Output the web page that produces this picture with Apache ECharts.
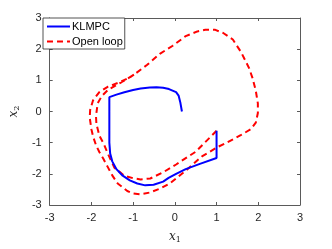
<!DOCTYPE html>
<html><head><meta charset="utf-8">
<script src="https://cdn.jsdelivr.net/npm/echarts@6/dist/echarts.min.js"></script>
<style>html,body{margin:0;padding:0;background:#fff}#c{width:332px;height:249px}</style>
</head><body><div id="c"></div>
<script>
const xTicks = [-3,-2,-1,0,1,2,3];
const yTicks = [-3,-2,-1,0,1,2,3];
const klmpcX = [1.0,1.0,0.6,0.26,0.03,-0.15,-0.28,-0.51,-0.71,-0.9,-1.08,-1.25,-1.4,-1.5,-1.55,-1.57,-1.57,-1.57,-1.4,-1.21,-1.0,-0.82,-0.6,-0.44,-0.28,-0.14,0.03,0.09,0.13,0.17];
const klmpcY = [-0.62,-1.49,-1.68,-1.85,-2.0,-2.13,-2.25,-2.35,-2.37,-2.31,-2.21,-2.06,-1.85,-1.6,-1.35,-1.0,-0.3,0.46,0.54,0.62,0.69,0.74,0.77,0.78,0.76,0.72,0.62,0.51,0.3,0.0];
const openX = [1.0,0.5,0.03,-0.28,-0.59,-0.82,-1.0,-1.21,-1.45,-1.61,-1.7,-1.81,-1.88,-1.89,-1.85,-1.75,-1.6,-1.29,-0.98,-0.67,-0.36,-0.05,0.26,0.54,0.73,0.97,1.16,1.39,1.59,1.78,1.86,1.94,1.99,1.99,1.94,1.82,1.59,1.2,1.04,0.65,0.26,-0.12,-0.35,-0.6,-0.82,-1.0,-1.14,-1.37,-1.5,-1.6,-1.72,-1.81,-1.89,-1.96,-2.0,-2.04,-2.03,-1.96,-1.81,-1.6,-1.34,-1.1,-0.98];
const openY = [-0.62,-1.29,-1.70,-1.95,-2.15,-2.18,-2.14,-2.06,-1.8,-1.34,-1.05,-0.77,-0.4,-0.15,0.26,0.5,0.7,0.93,1.18,1.49,1.85,2.11,2.42,2.57,2.62,2.62,2.52,2.31,1.9,1.39,1.08,0.67,0.26,-0.05,-0.36,-0.57,-0.75,-1.03,-1.13,-1.44,-1.9,-2.31,-2.47,-2.6,-2.66,-2.63,-2.55,-2.31,-2.05,-1.8,-1.5,-1.3,-1.08,-0.8,-0.57,-0.2,0.05,0.36,0.62,0.8,0.93,1.08,1.18];
const seriesNames = ['KLMPC','Open loop'];

const pairs = (xs, ys) => xs.map((x, i) => [x, ys[i]]);
const axCol = '#5a5a5a';
const font = 'Liberation Sans';
function mkAxis(pos, isX, showLabels) {
  const t = isX ? xTicks : yTicks;
  return {
    type: 'value', position: pos, min: t[0], max: t[t.length-1], interval: 1,
    axisLine: {show: true, onZero: false, lineStyle: {color: axCol, width: 1}},
    axisTick: {show: true, inside: true, length: 3, lineStyle: {color: axCol}},
    splitLine: {show: false},
    axisLabel: {show: showLabels, color: '#262626', fontSize: 11, fontFamily: font, margin: isX ? 7 : 8}
  };
}
const nameStyle = {rich: {i: {fontFamily: 'DejaVu Serif', fontStyle: 'italic', fontSize: 12, color: '#262626'}, s: {fontFamily: 'DejaVu Serif', fontSize: 8, color: '#262626', verticalAlign: 'bottom', padding: [6,0,0,0]}}};
const xA = mkAxis('bottom', true, true);
xA.name = '{i|x}{s|1}';
xA.nameLocation = 'middle';
xA.nameGap = 25;
xA.nameTextStyle = nameStyle;
const yA = mkAxis('left', false, true);
yA.name = '{i|x}{s|2}';
yA.nameLocation = 'middle';
yA.nameGap = 23;
yA.nameRotate = 90;
yA.nameTextStyle = nameStyle;

const chart = echarts.init(document.getElementById('c'), null, {renderer: 'canvas'});
chart.setOption({
  animation: false,
  backgroundColor: '#fff',
  grid: {left: 43, top: 18, width: 257, height: 195},
  xAxis: [xA, mkAxis('top', true, false)],
  yAxis: [yA, mkAxis('right', false, false)],
  legend: {
    left: 43, top: 18, orient: 'vertical', itemWidth: 23, itemHeight: 10, itemGap: 4,
    padding: [3, 2, 2, 3], borderColor: '#262626', borderWidth: 0.8, backgroundColor: '#fff',
    itemStyle: {opacity: 0, borderWidth: 0},
    textStyle: {fontFamily: font, fontSize: 11, color: '#000', padding: [0,0,0,-3]},
    data: seriesNames
  },
  series: [
    {name: seriesNames[0], type: 'line', data: pairs(klmpcX, klmpcY), symbol: 'none', showSymbol: false,
     lineStyle: {color: '#0000ff', width: 2}, itemStyle: {color: '#0000ff'}, z: 3},
    {name: seriesNames[1], type: 'line', data: pairs(openX, openY), symbol: 'none', showSymbol: false,
     lineStyle: {color: '#ff0000', width: 2, type: [6, 4]}, itemStyle: {color: '#ff0000'}, z: 2}
  ]
});
</script></body></html>
